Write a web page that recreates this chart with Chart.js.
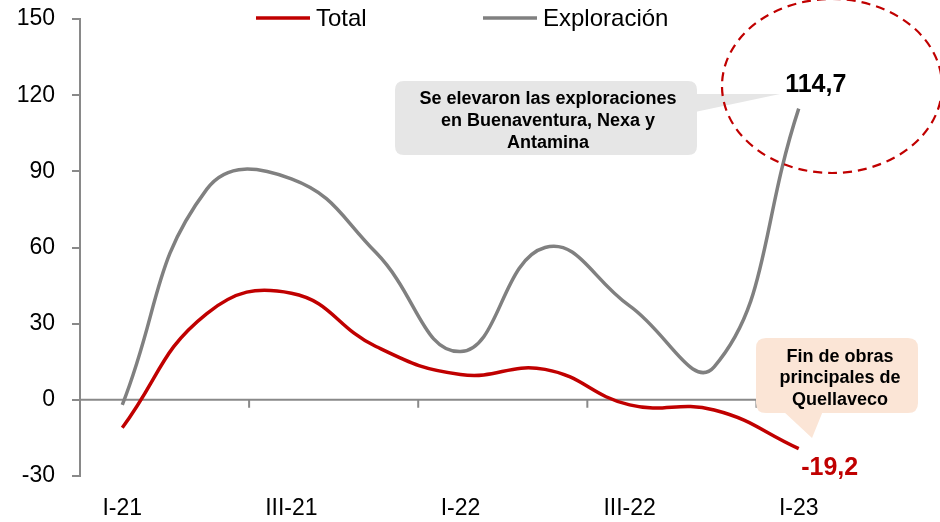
<!DOCTYPE html>
<html>
<head>
<meta charset="utf-8">
<script src="https://cdn.jsdelivr.net/npm/chart.js@4.4.1/dist/chart.umd.min.js"></script>
<style>
  html, body { margin: 0; padding: 0; background: #fff; }
  #wrap { width: 940px; height: 522px; position: relative; }
</style>
</head>
<body>
<div id="wrap"><canvas id="chart" width="940" height="522"></canvas></div>
<script>
// quarters (only every second one gets a label on the axis)
const quarters = ['I-21', 'II-21', 'III-21', 'IV-21', 'I-22', 'II-22', 'III-22', 'IV-22', 'I-23'];
const totalValues = [-11, 34, 42, 21, 10, 12, -2, -4, -19.2];
const exploracionValues = [-2, 83, 87, 58, 19, 60, 37, 13, 114.7];
const yTicks = [-30, 0, 30, 60, 90, 120, 150];

const RED = '#C00000';
const GREY = '#808080';
const AXIS = '#898989';
const FONT = 'Arial, "Liberation Sans", sans-serif';

function roundRect(ctx, x, y, w, h, r) {
    ctx.beginPath();
    ctx.moveTo(x + r, y);
    ctx.lineTo(x + w - r, y);
    ctx.quadraticCurveTo(x + w, y, x + w, y + r);
    ctx.lineTo(x + w, y + h - r);
    ctx.quadraticCurveTo(x + w, y + h, x + w - r, y + h);
    ctx.lineTo(x + r, y + h);
    ctx.quadraticCurveTo(x, y + h, x, y + h - r);
    ctx.lineTo(x, y + r);
    ctx.quadraticCurveTo(x, y, x + r, y);
    ctx.closePath();
}

// zero line, category tick marks, legend and the callouts
const extras = {
    id: 'extras',
    beforeDatasetsDraw(chart) {
        const { ctx, chartArea, scales } = chart;
        const y0 = scales.y.getPixelForValue(0);
        ctx.save();
        ctx.strokeStyle = AXIS;
        ctx.lineWidth = 2;
        ctx.beginPath();
        ctx.moveTo(chartArea.left, y0);
        ctx.lineTo(chartArea.right, y0);
        for (let i = 1; i < quarters.length - 1; i += 2) {
            const xm = (scales.x.getPixelForValue(i) + scales.x.getPixelForValue(i + 1)) / 2;
            ctx.moveTo(xm, y0);
            ctx.lineTo(xm, y0 + 8);
        }
        ctx.stroke();
        ctx.restore();
    },
    afterDraw(chart) {
        const { ctx, scales } = chart;
        const last = quarters.length - 1;
        const xLast = scales.x.getPixelForValue(last);
        ctx.save();

        // legend
        const legend = [
            { label: 'Total', color: RED, x: 256 },
            { label: 'Exploración', color: GREY, x: 483 }
        ];
        ctx.font = '24px ' + FONT;
        ctx.textBaseline = 'middle';
        ctx.textAlign = 'left';
        legend.forEach(l => {
            ctx.strokeStyle = l.color;
            ctx.lineWidth = 3.5;
            ctx.beginPath();
            ctx.moveTo(l.x, 18);
            ctx.lineTo(l.x + 54, 18);
            ctx.stroke();
            ctx.fillStyle = '#000';
            ctx.fillText(l.label, l.x + 60, 19);
        });

        // grey callout
        ctx.fillStyle = '#E6E6E6';
        roundRect(ctx, 395, 81, 302, 74, 9);
        ctx.fill();
        ctx.beginPath();
        ctx.moveTo(695, 94);
        ctx.lineTo(780, 94);
        ctx.lineTo(695, 112);
        ctx.closePath();
        ctx.fill();
        ctx.fillStyle = '#000';
        ctx.font = 'bold 18px ' + FONT;
        ctx.textAlign = 'center';
        ['Se elevaron las exploraciones', 'en Buenaventura, Nexa y', 'Antamina'].forEach((t, i) => {
            ctx.fillText(t, 548, 99 + i * 22);
        });

        // value label + dashed ellipse
        const yTop = scales.y.getPixelForValue(exploracionValues[last]);
        ctx.font = 'bold 25px ' + FONT;
        ctx.fillText('114,7', xLast + 17, yTop - 24);
        ctx.strokeStyle = RED;
        ctx.lineWidth = 2.2;
        ctx.setLineDash([9, 6]);
        ctx.beginPath();
        ctx.ellipse(832, 86, 110, 87, 0, 0, Math.PI * 2);
        ctx.stroke();
        ctx.setLineDash([]);

        // peach callout
        ctx.fillStyle = '#FBE5D6';
        roundRect(ctx, 756, 338, 162, 75, 10);
        ctx.fill();
        ctx.beginPath();
        ctx.moveTo(783, 411);
        ctx.lineTo(823, 411);
        ctx.lineTo(812, 438);
        ctx.closePath();
        ctx.fill();
        ctx.fillStyle = '#000';
        ctx.font = 'bold 18px ' + FONT;
        ['Fin de obras', 'principales de', 'Quellaveco'].forEach((t, i) => {
            ctx.fillText(t, 840, 357 + i * 21.5);
        });

        const yBot = scales.y.getPixelForValue(totalValues[last]);
        ctx.fillStyle = RED;
        ctx.font = 'bold 25px ' + FONT;
        ctx.fillText('-19,2', xLast + 31, yBot + 20);
        ctx.restore();
    }
};

new Chart(document.getElementById('chart'), {
    type: 'line',
    data: {
        labels: quarters,
        datasets: [{
            label: 'Total',
            data: totalValues,
            borderColor: RED,
            borderWidth: 3.5,
            pointRadius: 0,
            tension: 0.45
        }, {
            label: 'Exploración',
            data: exploracionValues,
            borderColor: GREY,
            borderWidth: 3.5,
            pointRadius: 0,
            tension: 0.45
        }]
    },
    options: {
        responsive: false,
        animation: false,
        events: [],
        layout: { padding: { top: 19, right: 99, left: 0, bottom: 0 } },
        plugins: {
            legend: { display: false },
            tooltip: { enabled: false }
        },
        scales: {
            x: {
                offset: true,
                grid: { display: false },
                border: { display: false },
                afterFit(scale) {
                    scale.height = 46;
                    scale.paddingLeft = 0;
                    scale.paddingRight = 0;
                },
                ticks: {
                    autoSkip: false,
                    maxRotation: 0,
                    padding: 11,
                    color: '#000',
                    font: { family: FONT, size: 23 },
                    callback(value, index) {
                        return index % 2 === 0 ? quarters[index] : '';
                    }
                }
            },
            y: {
                min: yTicks[0],
                max: yTicks[yTicks.length - 1],
                afterFit(scale) {
                    scale.width = 80;
                    scale.paddingTop = 0;
                    scale.paddingBottom = 0;
                },
                afterBuildTicks(scale) { scale.ticks = yTicks.map(v => ({ value: v })); },
                grid: {
                    drawOnChartArea: false,
                    drawTicks: true,
                    tickLength: 8,
                    color: AXIS,
                    lineWidth: 2
                },
                border: { display: true, color: AXIS, width: 2 },
                ticks: {
                    padding: 17,
                    color: '#000',
                    font: { family: FONT, size: 23 }
                }
            }
        }
    },
    plugins: [extras]
});
</script>
</body>
</html>
